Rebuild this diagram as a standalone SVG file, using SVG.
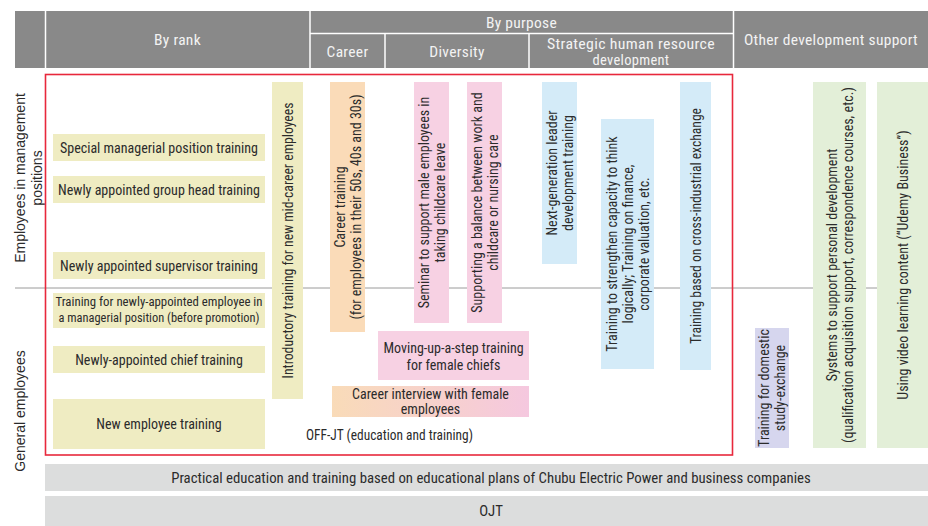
<svg xmlns="http://www.w3.org/2000/svg" width="928" height="526" viewBox="0 0 928 526">
<defs>
<linearGradient id="gInt" x1="0" y1="0" x2="1" y2="0">
<stop offset="0" stop-color="#f9dbb8"/>
<stop offset="1" stop-color="#f5c8df"/>
</linearGradient>
<style>
text{font-family:"Liberation Sans Narrow","Roboto Condensed","DejaVu Sans Condensed","Liberation Sans",sans-serif;fill:#2b2b2b;font-size:14px}
.hd{fill:#f3f3f3;font-size:15.5px;text-anchor:middle;letter-spacing:0.3px}
.c{text-anchor:middle}
.side{font-family:"Liberation Sans","Arial",sans-serif;font-size:14px;text-anchor:middle}
.tan{fill:#efecc2}
.org{fill:#fadbb8}
.pnk{fill:#f7d1e3}
.blu{fill:#d4ebf8}
.lav{fill:#d6d6ee}
.grn{fill:#e3efd8}
.bar{fill:#dcdddd}
</style>
</defs>
<g id="header">
<rect x="15" y="11" width="913" height="57" fill="#898989"/>
<g stroke="#ffffff" stroke-width="1.5">
<line x1="45.5" y1="11" x2="45.5" y2="68"/>
<line x1="310" y1="11" x2="310" y2="68"/>
<line x1="733.5" y1="11" x2="733.5" y2="68"/>
<line x1="310" y1="33.5" x2="733.5" y2="33.5"/>
<line x1="385" y1="33.5" x2="385" y2="68"/>
<line x1="529" y1="33.5" x2="529" y2="68"/>
</g>
<text class="hd" x="177.5" y="45">By rank</text>
<text class="hd" x="521.5" y="28">By purpose</text>
<text class="hd" x="347.5" y="57">Career</text>
<text class="hd" x="457" y="57">Diversity</text>
<text class="hd" x="631" y="48.5" style="font-size:14.5px" textLength="168" lengthAdjust="spacingAndGlyphs">Strategic human resource</text>
<text class="hd" x="631" y="64.5" style="font-size:14.5px">development</text>
<text class="hd" x="831" y="45">Other development support</text>
</g>
<line id="divider" x1="15" y1="288" x2="928" y2="288" stroke="#9a9a9a" stroke-width="1"/>
<g id="side-labels">
<g transform="translate(30,178) rotate(-90)">
<text class="side" x="0" y="-5">Employees in management</text>
<text class="side" x="0" y="12">positions</text>
</g>
<g transform="translate(22,411) rotate(-90)">
<text class="side" x="0" y="3">General employees</text>
</g>
</g>
<rect id="offjt-frame" x="45.5" y="74.5" width="687" height="380.5" fill="none" stroke="#e8283c" stroke-width="1.6"/>
<g id="n-special"><rect class="tan" x="53" y="134" width="212" height="27"/><text class="c" x="159" y="152.5">Special managerial position training</text></g>
<g id="n-grouphead"><rect class="tan" x="53" y="176" width="212" height="27"/><text class="c" x="159" y="194.5">Newly appointed group head training</text></g>
<g id="n-supervisor"><rect class="tan" x="53" y="252" width="212" height="27"/><text class="c" x="159" y="270.5">Newly appointed supervisor training</text></g>
<g id="n-prepromo"><rect class="tan" x="53" y="293" width="212" height="35"/><text class="c" x="159" y="306" style="font-size:13px" textLength="207" lengthAdjust="spacingAndGlyphs">Training for newly-appointed employee in</text><text class="c" x="159" y="322" style="font-size:13px" textLength="201" lengthAdjust="spacingAndGlyphs">a managerial position (before promotion)</text></g>
<g id="n-chief"><rect class="tan" x="53" y="346" width="212" height="27"/><text class="c" x="159" y="364.5">Newly-appointed chief training</text></g>
<g id="n-newemp"><rect class="tan" x="53" y="399" width="212" height="50"/><text class="c" x="159" y="429">New employee training</text></g>
<g id="n-midcareer"><rect class="tan" x="272" y="82" width="31" height="317"/><g transform="translate(287.5,240.5) rotate(-90)"><text class="c" x="0" y="5" textLength="276" lengthAdjust="spacingAndGlyphs">Introductory training for new mid-career employees</text></g></g>
<g id="n-career"><rect class="org" x="330" y="82" width="35" height="250"/><g transform="translate(347.5,207) rotate(-90)"><text class="c" x="0" y="-3">Career training</text><text class="c" x="0" y="13">(for employees in their 50s, 40s and 30s)</text></g></g>
<g id="n-seminar"><rect class="pnk" x="414" y="82" width="35" height="241"/><g transform="translate(431.5,202.5) rotate(-90)"><text class="c" x="0" y="-3">Seminar to support male employees in</text><text class="c" x="0" y="13">taking childcare leave</text></g></g>
<g id="n-balance"><rect class="pnk" x="467" y="82" width="35" height="241"/><g transform="translate(484.5,202.5) rotate(-90)"><text class="c" x="0" y="-3">Supporting a balance between work and</text><text class="c" x="0" y="13">childcare or nursing care</text></g></g>
<g id="n-movingup"><rect class="pnk" x="378" y="331" width="151" height="49"/><text class="c" x="453.5" y="353">Moving-up-a-step training</text><text class="c" x="453.5" y="370">for female chiefs</text></g>
<g id="n-interview"><rect fill="url(#gInt)" x="332" y="386" width="197" height="31"/><text class="c" x="430.5" y="398.5">Career interview with female</text><text class="c" x="430.5" y="413.5">employees</text></g>
<text id="offjt-label" x="306" y="440" textLength="167" lengthAdjust="spacingAndGlyphs">OFF-JT (education and training)</text>
<g id="n-nextgen"><rect class="blu" x="542" y="82" width="35" height="182"/><g transform="translate(559.5,173) rotate(-90)"><text class="c" x="0" y="-3">Next-generation leader</text><text class="c" x="0" y="13">development training</text></g></g>
<g id="n-logical"><rect class="blu" x="601" y="119" width="53" height="250"/><g transform="translate(627.5,244) rotate(-90)"><text class="c" x="0" y="-11">Training to strengthen capacity to think</text><text class="c" x="0" y="5">logically; Training on finance,</text><text class="c" x="0" y="21">corporate valuation, etc.</text></g></g>
<g id="n-crossind"><rect class="blu" x="680" y="82" width="31" height="288"/><g transform="translate(695.5,226) rotate(-90)"><text class="c" x="0" y="5" textLength="236" lengthAdjust="spacingAndGlyphs">Training based on cross-industrial exchange</text></g></g>
<g id="n-domestic"><rect class="lav" x="755" y="328" width="34" height="120"/><g transform="translate(772,388) rotate(-90)"><text class="c" x="0" y="-3">Training for domestic</text><text class="c" x="0" y="13">study-exchange</text></g></g>
<g id="n-selfdev"><rect class="grn" x="813" y="82" width="53" height="366"/><g transform="translate(839.5,265) rotate(-90)"><text class="c" x="0" y="-3">Systems to support personal development</text><text class="c" x="0" y="13">(qualification acquisition support, correspondence courses, etc.)</text></g></g>
<g id="n-udemy"><rect class="grn" x="877" y="82" width="51" height="366"/><g transform="translate(902.5,265) rotate(-90)"><text class="c" x="0" y="5">Using video learning content (“Udemy Business”)</text></g></g>
<g id="n-practical"><rect class="bar" x="45" y="464" width="883" height="27"/><text class="c" x="491" y="483" style="font-size:14.8px">Practical education and training based on educational plans of Chubu Electric Power and business companies</text></g>
<g id="n-ojt"><rect class="bar" x="45" y="496" width="883" height="30"/><text class="c" x="491" y="515.5" style="font-size:14.8px">OJT</text></g>
<g id="connectors"></g>
</svg>
